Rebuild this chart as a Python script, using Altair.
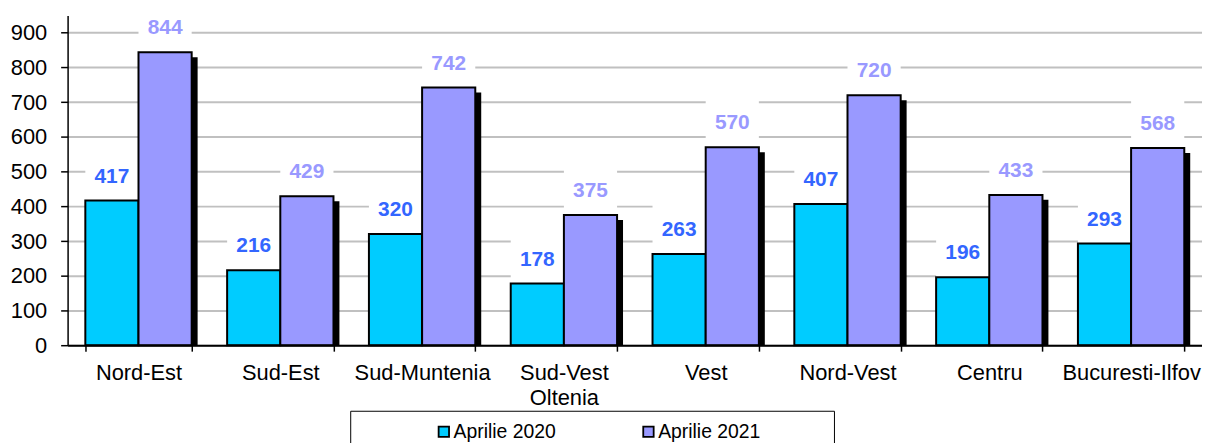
import altair as alt
import pandas as pd

regions = ["Nord-Est", "Sud-Est", "Sud-Muntenia", "Sud-Vest\nOltenia", "Vest",
           "Nord-Vest", "Centru", "Bucuresti-Ilfov"]
series = ["Aprilie 2020", "Aprilie 2021"]
v2020 = [417, 216, 320, 178, 263, 407, 196, 293]
v2021 = [844, 429, 742, 375, 570, 720, 433, 568]
y_ticks = [0, 100, 200, 300, 400, 500, 600, 700, 800, 900]

rows = []
for r, a, b in zip(regions, v2020, v2021):
    rows.append({"region": r, "series": series[0], "value": a})
    rows.append({"region": r, "series": series[1], "value": b})
df = pd.DataFrame(rows)

FONT = "Liberation Sans"

x_enc = alt.X("region:N", sort=regions,
              scale=alt.Scale(paddingInner=0.25, paddingOuter=0.125),
              axis=alt.Axis(title=None, labelAngle=0, labelFontSize=22, labelFont=FONT,
                            labelColor="black", labelPadding=12, labelLineHeight=25,
                            labelExpr="split(datum.label, '\\n')",
                            tickBand="extent", tickColor="black", tickWidth=1.5, tickSize=6,
                            domainColor="black", domainWidth=2, zindex=1, labelBound=False,
                            labelOverlap=False))
xo_enc = alt.XOffset("series:N", sort=series, scale=alt.Scale(paddingInner=0, paddingOuter=0))
y_enc = alt.Y("value:Q", scale=alt.Scale(domain=[0, 950], nice=False),
              axis=alt.Axis(title=None, values=y_ticks, grid=True, gridColor="#c0c0c0",
                            gridWidth=2, domainColor="black", domainWidth=1.5,
                            tickColor="black", tickSize=7, tickWidth=1.5, labelPadding=14,
                            labelFontSize=22, labelFont=FONT, labelColor="black", zindex=0))

base = alt.Chart(df)

boxes = base.mark_bar(color="white", yOffset=-50).encode(
    x=x_enc, xOffset=xo_enc, y=y_enc, y2=alt.Y2("value:Q"))

# drop shadow of the right-hand (2021) bar, shifted right and down
shadow = base.transform_filter(alt.datum.series == series[1]).mark_bar(
    color="black", width=alt.RelativeBandSize(0.5), xOffset=32.75, yOffset=5, y2Offset=0
).encode(x=x_enc, y=y_enc, y2=alt.datum(0))

bars = base.mark_bar(stroke="black", strokeWidth=2).encode(
    x=x_enc, xOffset=xo_enc, y=y_enc,
    color=alt.Color("series:N", sort=series,
                    scale=alt.Scale(domain=series, range=["#00CCFF", "#9999FF"]),
                    legend=alt.Legend(orient="none", legendX=369, legendY=409,
                                      direction="horizontal", title=None,
                                      symbolType="square", symbolSize=110,
                                      symbolStrokeColor="black", symbolStrokeWidth=1.8,
                                      labelFontSize=19.5, labelFont=FONT, labelColor="black",
                                      columnPadding=83, labelOffset=0, padding=0)))

labels = base.mark_text(dy=-24, fontWeight="bold", fontSize=21, font=FONT,
                        baseline="middle").encode(
    x=x_enc, xOffset=xo_enc, y=y_enc, text=alt.Text("value:Q"),
    color=alt.condition(alt.datum.series == series[0], alt.value("#3366FF"),
                        alt.value("#9999FF")))

legend_box = alt.Chart(pd.DataFrame({"k": [0]})).mark_rect(
    filled=False, stroke="black", strokeWidth=1).encode(
    x=alt.value(285), x2=alt.value(772), y=alt.value(398.5), y2=alt.value(470))

chart = alt.layer(boxes, shadow, bars, labels, legend_box).properties(
    width=1142, height=332,
    padding={"left": 60, "top": 6, "right": 0, "bottom": 97},
    autosize=alt.AutoSizeParams(type="none"),
).configure_view(stroke=None)

chart.save("out.html", embed_options={"renderer": "svg", "actions": False})
